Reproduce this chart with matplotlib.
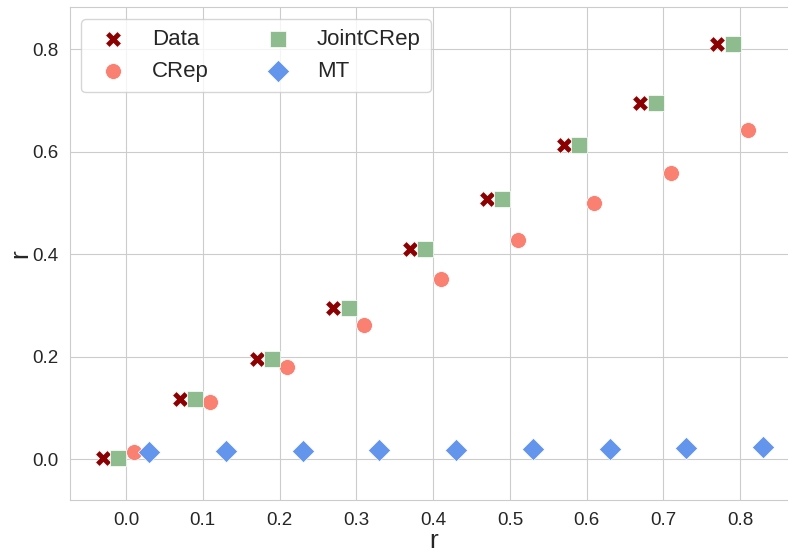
import matplotlib
matplotlib.use("Agg")
import matplotlib.pyplot as plt
import seaborn as sns
import numpy as np

sns.set_style("whitegrid")
plt.rcParams["font.family"] = ["Liberation Sans", "DejaVu Sans"]

# reciprocity values for each model, one point per input r
r_values = [0.0, 0.1, 0.2, 0.3, 0.4, 0.5, 0.6, 0.7, 0.8]
data_r = [0.002, 0.118, 0.195, 0.295, 0.41, 0.508, 0.612, 0.695, 0.81]
jointcrep_r = [0.002, 0.118, 0.195, 0.295, 0.41, 0.508, 0.612, 0.695, 0.81]
crep_r = [0.014, 0.111, 0.179, 0.261, 0.351, 0.427, 0.499, 0.559, 0.642]
mt_r = [0.014, 0.015, 0.015, 0.017, 0.017, 0.019, 0.019, 0.021, 0.023]

x = np.array(r_values)

fig = plt.figure(figsize=(7.88, 5.48), dpi=100)
ax = fig.add_axes([70 / 788, 48 / 548, 727 / 788, 493 / 548])

size = 130
ax.scatter(x - 0.03, data_r, marker="X", s=size, color="darkred", edgecolor="white", linewidth=0.5, label="Data", zorder=3)
ax.scatter(x + 0.01, crep_r, marker="o", s=size, color="salmon", edgecolor="white", linewidth=0.5, label="CRep", zorder=3)
ax.scatter(x - 0.01, jointcrep_r, marker="s", s=size, color="darkseagreen", edgecolor="white", linewidth=0.5, label="JointCRep", zorder=3)
ax.scatter(x + 0.03, mt_r, marker="D", s=size, color="cornflowerblue", edgecolor="white", linewidth=0.5, label="MT", zorder=3)

ax.set_xlim(-0.073, 0.874)
ax.set_ylim(-0.08, 0.882)
ax.set_xticks(np.arange(0, 0.81, 0.1))
ax.set_yticks([0.0, 0.2, 0.4, 0.6, 0.8])
ax.tick_params(labelsize=13.5, pad=5)
ax.set_xlabel("r", fontsize=19, labelpad=0)
ax.set_ylabel("r", fontsize=19, labelpad=0)

ax.legend(ncol=2, loc="upper left", fontsize=16, frameon=True, columnspacing=2.1,
          handletextpad=0.75, borderpad=0.45, bbox_to_anchor=(0.0, 0.998))

fig.savefig("out.png", dpi=100)
